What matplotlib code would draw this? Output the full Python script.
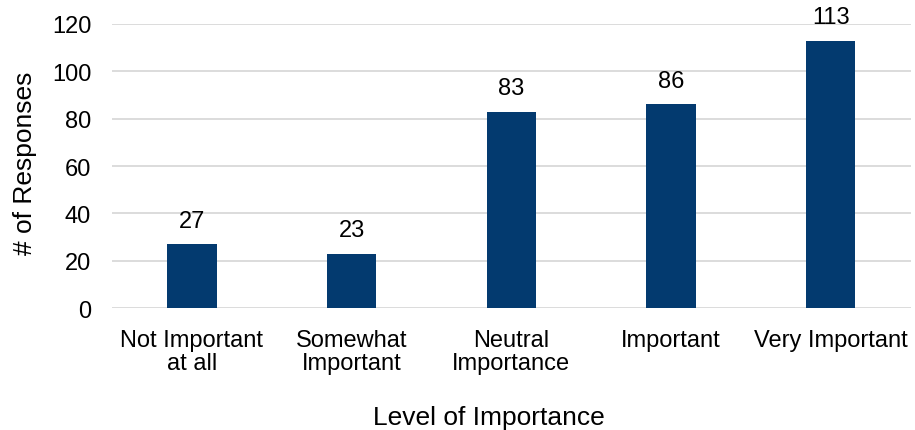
import matplotlib.pyplot as plt

categories = ["Not Important\nat all", "Somewhat\nImportant", "Neutral\nImportance",
              "Important", "Very Important"]
responses = [27, 23, 83, 86, 113]
yticks = [0, 20, 40, 60, 80, 100, 120]

plt.rcParams['font.family'] = ['Liberation Sans', 'DejaVu Sans']

fig = plt.figure(figsize=(9.15, 4.31), dpi=100)
ax = fig.add_axes([0.1224, 0.283, 0.8727, 0.659])

x = range(len(categories))
bars = ax.bar(x, responses, width=0.31, color="#033A6F", zorder=3)
for b, v in zip(bars, responses):
    ax.text(b.get_x() + b.get_width() / 2, v + 5.3, str(v), ha="center", va="bottom", fontsize=17)

ax.set_xlim(-0.5, 4.5)
ax.set_ylim(0, 120)
ax.set_yticks(yticks)
ax.set_xticks(list(x))
ax.set_xticklabels(categories, linespacing=1.05)
ax.tick_params(axis="both", length=0, labelsize=17)
ax.tick_params(axis="y", pad=15)
ax.tick_params(axis="x", pad=15)
ax.grid(axis="y", color="#D9D9D9", linewidth=1.3, zorder=0)
for s in ax.spines.values():
    s.set_visible(False)

ax.set_ylabel("# of Responses", fontsize=19, labelpad=11)
ax.set_xlabel("Level of Importance", fontsize=19)
ax.xaxis.set_label_coords(0.472, -0.34)
ax.yaxis.label.set_y(0.514)

fig.savefig("out.png", dpi=100)
